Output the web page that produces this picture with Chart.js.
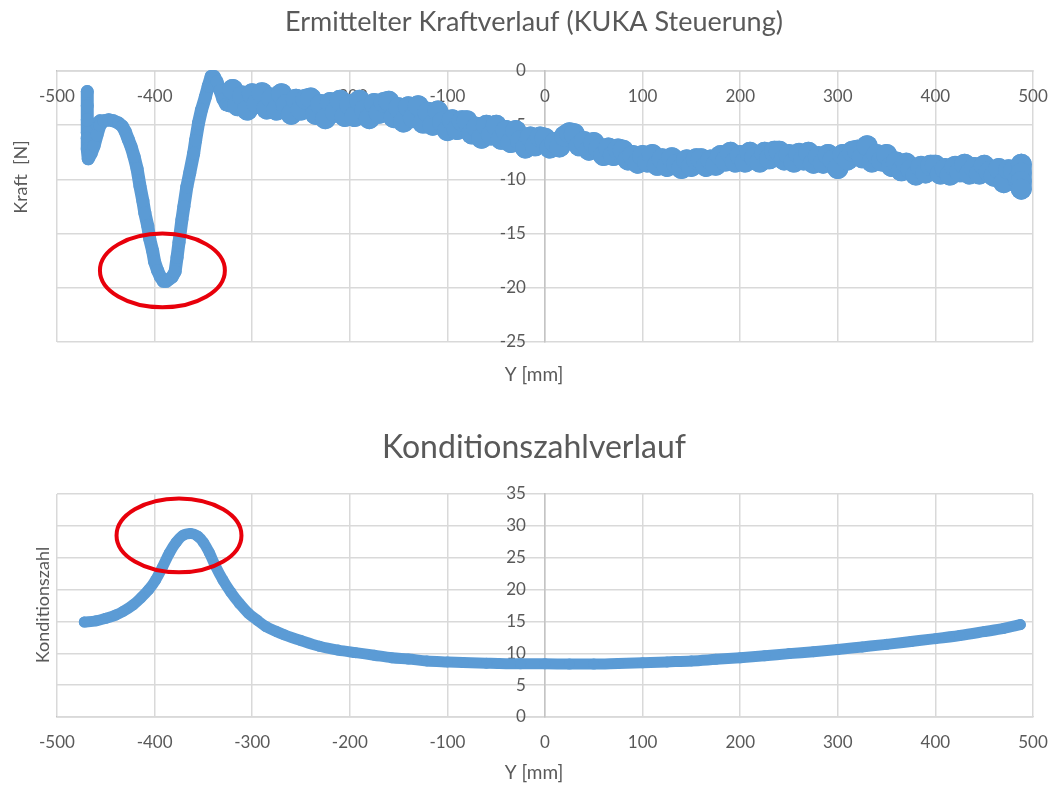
<!DOCTYPE html>
<html lang="de">
<head>
<meta charset="utf-8">
<title>Kraftverlauf und Konditionszahl</title>
<script src="https://cdn.jsdelivr.net/npm/chart.js@4.4.1/dist/chart.umd.min.js"></script>
<style>
  html, body { margin: 0; background: #fff; }
  #page { position: relative; width: 1051px; height: 785px; }
  .panel { position: absolute; left: 0; width: 1051px; }
  #kraftPanel { top: 0; height: 400px; }
  #kondPanel { top: 395px; height: 390px; }
</style>
</head>
<body>
<div id="page">
  <div class="panel" id="kraftPanel"><canvas id="kraftChart" width="1051" height="400"></canvas></div>
  <div class="panel" id="kondPanel"><canvas id="kondChart" width="1051" height="390"></canvas></div>
</div>
<script>
// --- data ---

// Kraft [N] over Y [mm] (KUKA Steuerung), in measuring order
const kraftY = [
  -469, -469, -469, -469, -456, -469, -469, -468, -465, -462,
  -459, -456, -452, -447, -442, -437, -433, -430, -427, -424,
  -421, -418, -415, -412, -410, -407, -405, -402, -400, -397,
  -394, -391, -388, -385, -382, -379, -377, -375, -372, -370,
  -367, -364, -360, -358, -355, -352, -348, -345, -342, -339,
  -336, -333, -330, -327, -324,
  -320, -315, -310, -305, -300, -295, -290, -285, -280, -275,
  -270, -265, -260, -255, -250, -245, -240, -235, -230, -225,
  -220, -215, -210, -205, -200, -195, -190, -185, -180, -175,
  -170, -165, -160, -155, -150, -145, -140, -135, -130, -125,
  -120, -115, -110, -105, -100, -95, -90, -85, -80, -75,
  -70, -65, -60, -55, -50, -45, -40, -35, -30, -25,
  -20, -15, -10, -5, 0, 5, 10, 15, 20, 25,
  30, 35, 40, 45, 50, 55, 60, 65, 70, 75,
  80, 85, 90, 95, 100, 105, 110, 115, 120, 125,
  130, 135, 140, 145, 150, 155, 160, 165, 170, 175,
  180, 185, 190, 195, 200, 205, 210, 215, 220, 225,
  230, 235, 240, 245, 250, 255, 260, 265, 270, 275,
  280, 285, 290, 295, 300, 305, 310, 315, 320, 325,
  330, 335, 340, 345, 350, 355, 360, 365, 370, 375,
  380, 385, 390, 395, 400, 405, 410, 415, 420, 425,
  430, 435, 440, 445, 450, 455, 460, 465, 470, 475,
  480, 485, 488, 488, 488, 488
];
const kraftN = [
  -1.9, -3.2, -4.5, -5.7, -4.6, -6.2, -7.2, -8.1, -7.6, -6.9,
  -5.9, -5.0, -4.6, -4.5, -4.6, -4.8, -5.1, -5.6, -6.3, -7.0,
  -7.9, -9.0, -10.6, -12.0, -13.1, -14.3, -15.5, -16.6, -17.6, -18.4,
  -19.0, -19.4, -19.4, -19.2, -19.0, -18.5, -17.2, -15.8, -13.7, -12.5,
  -10.7, -9.4, -7.6, -6.4, -4.8, -3.6, -2.4, -1.4, -0.5, -0.5,
  -1.0, -1.8, -2.6, -3.1, -3.2,
  -1.7, -3.2, -2.3, -3.6, -2.1, -3.0, -2.0, -3.5, -2.5, -3.6,
  -2.1, -3.1, -4.0, -2.6, -3.6, -2.6, -2.5, -4.0, -3.1, -4.4,
  -2.9, -3.8, -2.7, -4.2, -3.1, -4.2, -2.7, -3.6, -4.4, -3.0,
  -3.9, -2.9, -2.8, -4.3, -3.4, -4.7, -3.3, -4.3, -3.2, -4.8,
  -3.8, -5.0, -3.7, -4.7, -5.5, -4.5, -5.4, -4.6, -4.6, -5.8,
  -5.2, -6.2, -5.0, -5.9, -5.0, -6.3, -5.5, -6.6, -5.5, -6.4,
  -7.1, -6.1, -6.9, -6.1, -6.2, -7.1, -6.6, -7.0, -6.0, -5.7,
  -5.8, -6.9, -6.5, -7.3, -6.6, -7.2, -7.8, -7.1, -7.8, -7.2,
  -7.3, -8.2, -7.8, -8.5, -7.8, -8.4, -7.7, -8.7, -8.1, -8.8,
  -8.0, -8.6, -9.0, -8.2, -8.8, -8.1, -8.1, -8.8, -8.2, -8.7,
  -7.8, -8.3, -7.5, -8.4, -7.8, -8.4, -7.5, -8.0, -8.4, -7.5,
  -8.1, -7.4, -7.4, -8.2, -7.7, -8.4, -7.6, -8.2, -7.5, -8.5,
  -7.9, -8.5, -7.7, -8.2, -9.0, -7.7, -8.2, -7.4, -7.3, -8.0,
  -6.9, -8.4, -7.7, -8.3, -7.7, -8.8, -8.4, -9.2, -8.5, -9.1,
  -9.6, -8.8, -9.4, -8.7, -8.7, -9.5, -9.0, -9.6, -8.8, -9.3,
  -8.6, -9.5, -8.9, -9.5, -8.7, -9.3, -9.7, -9.0, -10.3, -9.1,
  -9.2, -10.0, -8.6, -9.4, -10.2, -10.9
];

// Konditionszahl over Y [mm]
const kondY = [
  -472, -460, -450, -440, -432, -422, -414, -406, -399, -392,
  -385, -378, -371, -363, -356, -350, -344, -338, -330, -322,
  -313, -304, -295, -286, -275, -267, -250, -231, -212, -194,
  -175, -157, -140, -121, -100, -84, -60, -48, -25, 0,
  25, 50, 75, 100, 125, 150, 175, 200, 225, 250,
  275, 300, 325, 350, 375, 400, 425, 450, 470, 487
];
const kondZahl = [
  14.9, 15.1, 15.5, 16.0, 16.6, 17.6, 18.7, 20.0, 21.5, 23.5,
  25.7, 27.4, 28.5, 28.8, 28.4, 27.4, 25.8, 23.8, 21.5, 19.6,
  17.8, 16.3, 15.2, 14.2, 13.4, 12.9, 12.0, 11.1, 10.5, 10.1,
  9.7, 9.3, 9.1, 8.8, 8.65, 8.55, 8.45, 8.4, 8.35, 8.35,
  8.3, 8.3, 8.4, 8.5, 8.65, 8.8, 9.05, 9.3, 9.6, 9.95,
  10.25, 10.6, 11.0, 11.4, 11.85, 12.3, 12.8, 13.4, 13.9, 14.5
];

// axis ranges [min, max, step]
const yRange = [-500, 500, 100];
const kraftRange = [-25, 0, 5];
const kondRange = [0, 35, 5];

// red rings around the critical spot: [centre Y, centre value, radius Y, radius value]
const kraftRing = [-392, -18.4, 64, 3.4];
const kondRing = [-375, 28.5, 64, 5.8];

// --- styles ---
const FONT = 'Lato';
const TEXT = '#595959';
const GRID = '#d9d9d9';
const AXIS = '#c4c4c4';
const BLUE = '#5b9bd5';
const RED = '#e8000b';
const NOISY_FROM = -322;   // right of this Y the force trace is a dense, noisy cloud

const toPoints = (xs, ys) => xs.map((x, i) => ({ x: x, y: ys[i] }));

// titles and axis titles, placed in canvas pixels like the Excel layout
const chartTexts = {
    id: 'chartTexts',
    afterDraw(chart, args, opts) {
        const ctx = chart.ctx;
        ctx.save();
        ctx.fillStyle = TEXT;
        ctx.textAlign = 'center';
        ctx.textBaseline = 'middle';
        for (const t of opts.items) {
            ctx.save();
            ctx.translate(t.x, t.y);
            if (t.rotate) ctx.rotate(-Math.PI / 2);
            ctx.font = `${t.size}px ${FONT}`;
            ctx.fillText(t.text, 0, 0);
            ctx.restore();
        }
        ctx.restore();
    }
};

// ellipse drawn in data units through the chart scales
const markerRing = {
    id: 'markerRing',
    afterDatasetsDraw(chart, args, opts) {
        const [cx, cy, rx, ry] = opts.ring;
        const xs = chart.scales.x, ys = chart.scales.y;
        const px = xs.getPixelForValue(cx);
        const py = ys.getPixelForValue(cy);
        const prx = Math.abs(xs.getPixelForValue(cx + rx) - px);
        const pry = Math.abs(ys.getPixelForValue(cy + ry) - py);
        const ctx = chart.ctx;
        ctx.save();
        ctx.beginPath();
        ctx.ellipse(px, py, prx, pry, 0, 0, Math.PI * 2);
        ctx.strokeStyle = RED;
        ctx.lineWidth = 4;
        ctx.stroke();
        ctx.restore();
    }
};

function buildScales(range, xAxisAt) {
    return {
        x: {
            type: 'linear',
            min: yRange[0], max: yRange[1],
            position: { y: xAxisAt },
            ticks: {
                stepSize: yRange[2],
                color: TEXT,
                font: { family: FONT, size: 17 },
                padding: 0,
                maxRotation: 0,
                autoSkip: false
            },
            // invisible tick marks give the gap between axis line and labels
            grid: {
                color: GRID, lineWidth: 1.5, z: -1,
                drawTicks: true, tickLength: 15, tickColor: 'rgba(0,0,0,0)'
            },
            border: { display: true, color: AXIS, width: 1.5, z: -1 }
        },
        y: {
            type: 'linear',
            min: range[0], max: range[1],
            position: { x: 0 },
            ticks: {
                stepSize: range[2],
                color: TEXT,
                font: { family: FONT, size: 17 },
                // labels sit left of the axis line at Y = 0, with a small gap
                callback: v => v + '\u2002\u2002\u2009'
            },
            grid: { color: GRID, lineWidth: 1.5, drawTicks: false, z: -1 },
            border: { display: true, color: AXIS, width: 1.5, z: -1 }
        }
    };
}

function seriesStyle(width) {
    return {
        showLine: true,
        borderColor: BLUE,
        backgroundColor: BLUE,
        borderWidth: width,
        pointRadius: width / 2,
        pointBorderWidth: 0,
        pointHoverRadius: width / 2,
        borderJoinStyle: 'round',
        borderCapStyle: 'round',
        clip: 14
    };
}

new Chart(document.getElementById('kraftChart'), {
    type: 'scatter',
    data: {
        datasets: [{
            label: 'Kraft',
            data: toPoints(kraftY, kraftN),
            ...seriesStyle(13),
            // the noisy stretch is drawn as a wider ribbon of markers
            pointRadius: c => (c.raw && c.raw.x > NOISY_FROM ? 10.5 : 6.5),
            segment: {
                borderWidth: c => (c.p0.parsed.x > NOISY_FROM ? 21 : 13)
            }
        }]
    },
    options: {
        responsive: false,
        animation: false,
        layout: { padding: { left: 57, right: 18, top: 71, bottom: 58 } },
        scales: buildScales(kraftRange, 0),
        plugins: {
            legend: { display: false },
            tooltip: { enabled: false },
            markerRing: { ring: kraftRing },
            chartTexts: {
                items: [
                    { text: 'Ermittelter Kraftverlauf (KUKA Steuerung)', x: 534, y: 22, size: 27 },
                    { text: 'Y [mm]', x: 534, y: 375, size: 19 },
                    { text: 'Kraft  [N]', x: 21, y: 177, size: 18, rotate: true }
                ]
            }
        }
    },
    plugins: [chartTexts, markerRing]
});

new Chart(document.getElementById('kondChart'), {
    type: 'scatter',
    data: {
        datasets: [{
            label: 'Konditionszahl',
            data: toPoints(kondY, kondZahl),
            ...seriesStyle(11),
            cubicInterpolationMode: 'monotone'
        }]
    },
    options: {
        responsive: false,
        animation: false,
        layout: { padding: { left: 57, right: 18, top: 99, bottom: 68 } },
        scales: buildScales(kondRange, 0),
        plugins: {
            legend: { display: false },
            tooltip: { enabled: false },
            markerRing: { ring: kondRing },
            chartTexts: {
                items: [
                    { text: 'Konditionszahlverlauf', x: 534, y: 53, size: 32 },
                    { text: 'Y [mm]', x: 534, y: 378, size: 19 },
                    { text: 'Konditionszahl', x: 43, y: 210, size: 18, rotate: true }
                ]
            }
        }
    },
    plugins: [chartTexts, markerRing]
});
</script>
</body>
</html>
